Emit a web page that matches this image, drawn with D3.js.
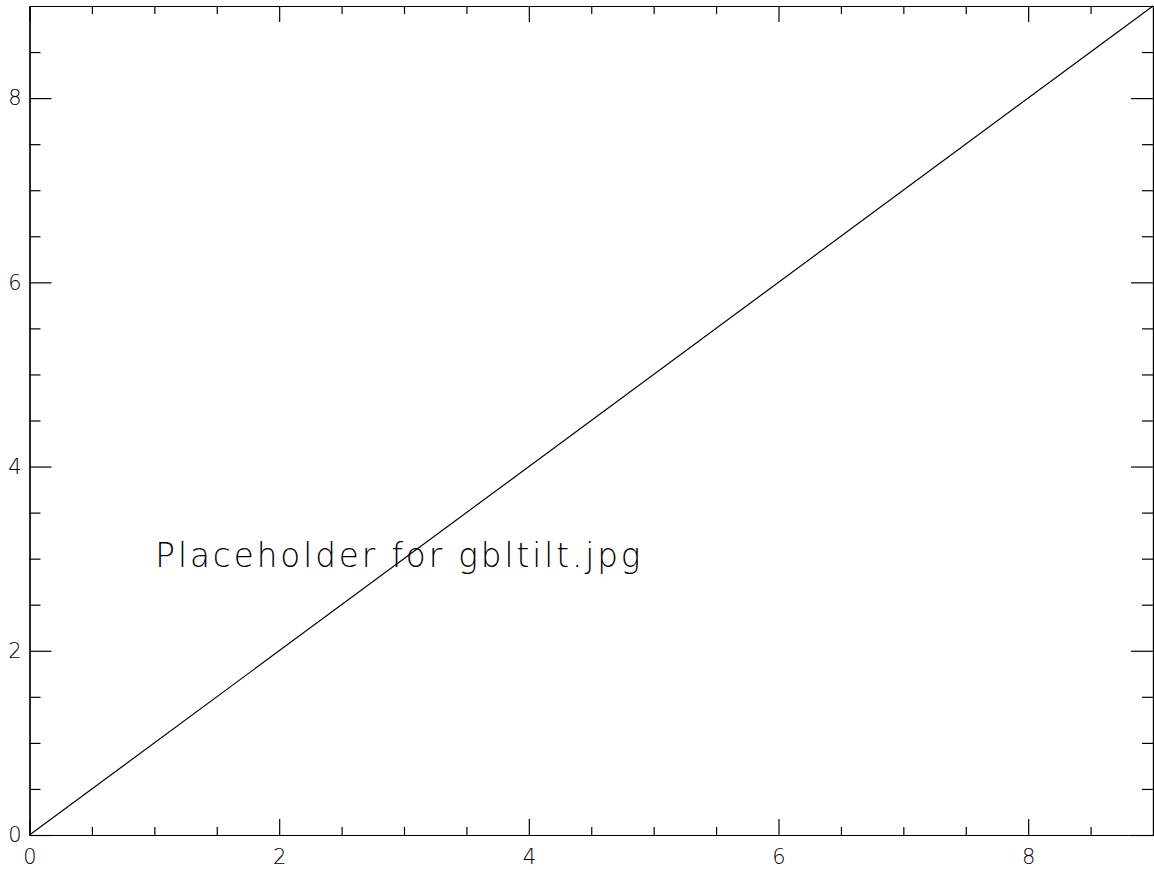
<!DOCTYPE html>
<html>
<head>
<meta charset="utf-8">
<script src="https://cdn.jsdelivr.net/npm/d3@7"></script>
<style>
  body { margin: 0; background: #fff; }
  svg { display: block; }
  text { font-family: 'DejaVu Sans', sans-serif; font-weight: 200; fill: #000; }
</style>
</head>
<body>
<div id="chart"></div>
<script>
const lineX = [0, 9];
const lineY = [0, 9];
const majorTicks = [0, 2, 4, 6, 8];
const minorTicks = [0.5, 1, 1.5, 2.5, 3, 3.5, 4.5, 5, 5.5, 6.5, 7, 7.5, 8.5];
const placeholderText = 'Placeholder for gbltilt.jpg';
const placeholderPos = [1, 3];

const W = 1154, H = 870;
const margin = { top: 6, right: 1, bottom: 35, left: 29.5 };
const width = W - margin.left - margin.right;
const height = H - margin.top - margin.bottom;

const svg = d3.select('#chart').append('svg')
  .attr('width', W).attr('height', H)
  .append('g')
  .attr('transform', `translate(${margin.left},${margin.top})`);

const x = d3.scaleLinear().domain([0, 9]).range([0, width]);
const y = d3.scaleLinear().domain([0, 9]).range([height, 0]);

function styleAxis(g) {
  g.select('.domain').attr('stroke', '#000').attr('stroke-width', 1.2);
  g.selectAll('line').attr('stroke', '#000').attr('stroke-width', 1.2);
  g.selectAll('text').style('font-size', '21px');
}

// bottom axis
svg.append('g').attr('transform', `translate(0,${height})`)
  .call(d3.axisBottom(x).tickValues(majorTicks).tickSize(-16).tickSizeOuter(0).tickPadding(14).tickFormat(d3.format('d')))
  .call(styleAxis);
svg.append('g').attr('transform', `translate(0,${height})`)
  .call(d3.axisBottom(x).tickValues(minorTicks).tickSize(-8).tickSizeOuter(0).tickFormat(''))
  .call(styleAxis);

// top axis
svg.append('g')
  .call(d3.axisTop(x).tickValues(majorTicks).tickSize(-16).tickSizeOuter(0).tickFormat(''))
  .call(styleAxis);
svg.append('g')
  .call(d3.axisTop(x).tickValues(minorTicks).tickSize(-8).tickSizeOuter(0).tickFormat(''))
  .call(styleAxis);

// left axis
svg.append('g')
  .call(d3.axisLeft(y).tickValues(majorTicks).tickSize(-22).tickSizeOuter(0).tickPadding(8).tickFormat(d3.format('d')))
  .call(styleAxis);
svg.append('g')
  .call(d3.axisLeft(y).tickValues(minorTicks).tickSize(-11).tickSizeOuter(0).tickFormat(''))
  .call(styleAxis);

// right axis
svg.append('g').attr('transform', `translate(${width},0)`)
  .call(d3.axisRight(y).tickValues(majorTicks).tickSize(-22).tickSizeOuter(0).tickFormat(''))
  .call(styleAxis);
svg.append('g').attr('transform', `translate(${width},0)`)
  .call(d3.axisRight(y).tickValues(minorTicks).tickSize(-11).tickSizeOuter(0).tickFormat(''))
  .call(styleAxis);

// diagonal line
const pts = lineX.map((d, i) => ({ x: d, y: lineY[i] }));
svg.append('path')
  .attr('fill', 'none')
  .attr('stroke', '#000')
  .attr('stroke-width', 1.2)
  .attr('d', d3.line().x(d => x(d.x)).y(d => y(d.y))(pts));

// placeholder text
svg.append('text')
  .attr('x', x(placeholderPos[0]) + 1)
  .attr('y', y(placeholderPos[1]) + 8)
  .attr('textLength', 488)
  .attr('lengthAdjust', 'spacingAndGlyphs')
  .style('font-size', '33px')
  .style('letter-spacing', '3px')
  .text(placeholderText);
</script>
</body>
</html>
